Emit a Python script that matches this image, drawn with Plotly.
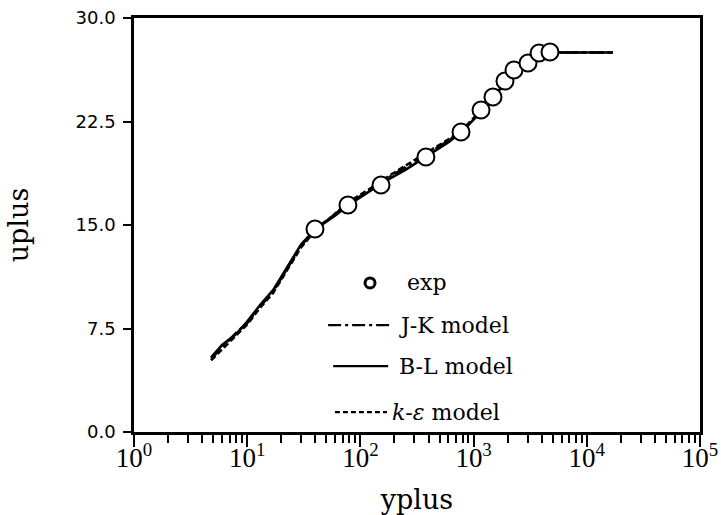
import plotly.graph_objects as go

# Experimental velocity profile (wall units)
exp_yplus = [39.7, 77.6, 152, 379, 774, 1163, 1483, 1893, 2274, 3025, 3786, 4730]
exp_uplus = [14.71, 16.45, 17.90, 19.93, 21.74, 23.33, 24.28, 25.43, 26.23, 26.74, 27.46, 27.54]

# Model predictions on a common y+ grid
model_yplus = [4.8, 6, 8, 10, 13, 17, 22, 30, 40, 60, 80, 120, 160, 250, 400, 600,
               800, 1100, 1500, 2000, 2500, 3000, 3800, 4700, 6000, 9000, 13000, 17000]
jk_uplus = [5.3, 6.1, 7.2, 7.9, 9.1, 10.2, 11.7, 13.5, 14.7, 15.8, 16.6, 17.5, 18.2, 19.2,
            20.2, 21.1, 21.9, 23.0, 24.3, 25.5, 26.3, 26.8, 27.3, 27.5, 27.5, 27.5, 27.5, 27.5]
bl_uplus = [5.4, 6.3, 7.1, 8.0, 9.2, 10.3, 11.8, 13.6, 14.7, 15.7, 16.5, 17.4, 18.1, 19.0,
            20.1, 21.0, 21.8, 23.0, 24.3, 25.5, 26.3, 26.8, 27.3, 27.5, 27.5, 27.5, 27.5, 27.5]
ke_uplus = [5.2, 6.0, 7.0, 7.8, 9.0, 10.1, 11.6, 13.4, 14.6, 15.8, 16.7, 17.6, 18.3, 19.3,
            20.3, 21.2, 21.9, 23.1, 24.3, 25.5, 26.3, 26.8, 27.3, 27.5, 27.5, 27.5, 27.5, 27.5]

x_tickvals = [1, 10, 100, 1000, 10000, 100000]
x_ticktext = ["10<sup>0</sup>", "10<sup>1</sup>", "10<sup>2</sup>",
              "10<sup>3</sup>", "10<sup>4</sup>", "10<sup>5</sup>"]
x_minor = [m * 10 ** k for k in range(5) for m in range(2, 10)]
y_tickvals = [0, 7.5, 15, 22.5, 30]
y_ticktext = ["0.0", "7.5", "15.0", "22.5", "30.0"]

legend_labels = ["exp", "J-K model", "B-L model", "<i>k</i>-<i>ε</i> model"]

SERIF = "DejaVu Serif"
JK_DASH = "13px,4px,3px,4px"

fig = go.Figure()
fig.add_trace(go.Scatter(x=model_yplus, y=ke_uplus, mode="lines",
                         line=dict(color="black", width=2.6, dash="6px,3px")))
fig.add_trace(go.Scatter(x=model_yplus, y=jk_uplus, mode="lines",
                         line=dict(color="black", width=2.6, dash=JK_DASH)))
fig.add_trace(go.Scatter(x=model_yplus, y=bl_uplus, mode="lines",
                         line=dict(color="black", width=2.6)))
fig.add_trace(go.Scatter(x=exp_yplus, y=exp_uplus, mode="markers",
                         marker=dict(symbol="circle", size=17, color="white",
                                     line=dict(color="black", width=2))))

# Hand-drawn style key inside the axes
key_rows = [0.360, 0.258, 0.159, 0.048]   # paper y of each key row
text_x = [0.479, 0.465, 0.465, 0.452]
for lab, ty, tx in zip(legend_labels, key_rows, text_x):
    fig.add_annotation(x=tx, y=ty, xref="paper", yref="paper", text=lab,
                       showarrow=False, xanchor="left", yanchor="middle",
                       font=dict(family=SERIF, size=22, color="black"))
fig.add_shape(type="circle", xref="paper", yref="paper", xsizemode="pixel",
              ysizemode="pixel", xanchor=0.417, yanchor=key_rows[0],
              x0=-5, x1=5, y0=-5, y1=5, line=dict(color="black", width=3))
for ty, x0, x1, dash in [(key_rows[1], 0.343, 0.452, JK_DASH),
                         (key_rows[2], 0.352, 0.449, "solid"),
                         (key_rows[3], 0.355, 0.447, "5px,3px")]:
    fig.add_shape(type="line", xref="paper", yref="paper", x0=x0, x1=x1, y0=ty, y1=ty,
                  line=dict(color="black", width=2.2, dash=dash))

fig.update_layout(
    width=721, height=515,
    margin=dict(l=134, r=21, t=18, b=83),
    paper_bgcolor="white", plot_bgcolor="white",
    showlegend=False,
    xaxis=dict(type="log", range=[0, 5], tickvals=x_tickvals, ticktext=x_ticktext,
               automargin=False,
               ticks="outside", ticklen=12, tickwidth=2, tickcolor="black",
               ticklabelstandoff=-12,
               showline=True, linecolor="black", linewidth=2.5, mirror=True,
               showgrid=False, zeroline=False,
               tickfont=dict(family="Liberation Serif", size=27, color="black"),
               minor=dict(tickvals=x_minor, ticks="outside", ticklen=8,
                          tickwidth=2, tickcolor="black", showgrid=False),
               title=dict(text="yplus", font=dict(family=SERIF, size=27, color="black"),
                          standoff=18)),
    yaxis=dict(range=[0, 30], tickvals=y_tickvals, ticktext=y_ticktext,
               automargin=False,
               ticks="outside", ticklen=8, tickwidth=2, tickcolor="black",
               ticklabelstandoff=4,
               showline=True, linecolor="black", linewidth=2.5, mirror=True,
               showgrid=False, zeroline=False,
               tickfont=dict(family="DejaVu Sans", size=18, color="black"),
               title=dict(text="uplus", font=dict(family=SERIF, size=27, color="black"),
                          standoff=40)),
)

fig.write_html("out.html")
